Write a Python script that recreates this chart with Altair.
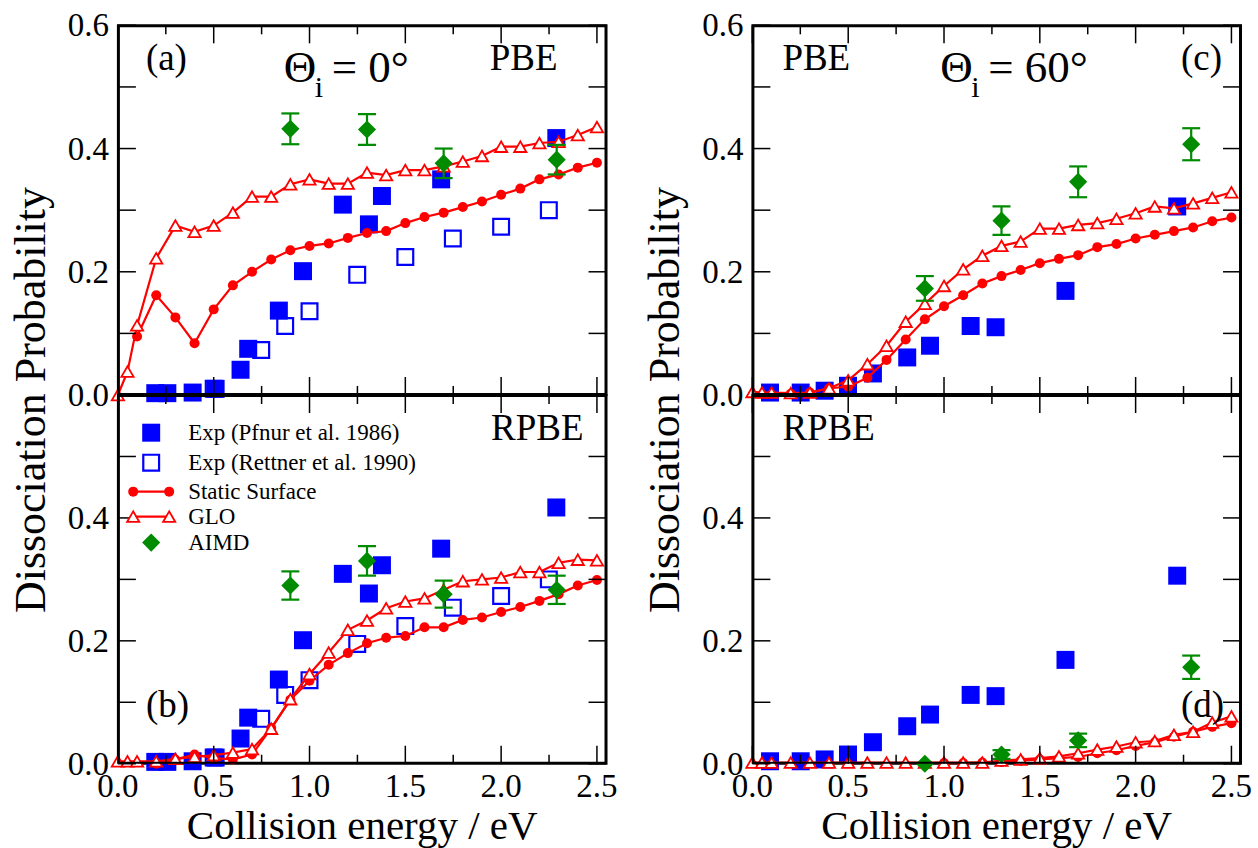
import altair as alt
import pandas as pd

FONT = "Liberation Serif"
BLUE, RED, GREEN, BLACK = "#0000ff", "#ff0000", "#008b00", "#000000"

# ---------------- data : Theta_i = 0 deg ----------------
pf0_x = [0.195, 0.258, 0.39, 0.51, 0.64, 0.68, 0.84, 0.966, 1.174, 1.31, 1.378, 1.687, 2.288]
pf0_y = [0.003, 0.003, 0.004, 0.010, 0.041, 0.075, 0.137, 0.201, 0.309, 0.277, 0.323, 0.350, 0.417]
re0_x = [0.50, 0.748, 0.873, 1.0, 1.249, 1.5, 1.748, 2.0, 2.249]
re0_y = [0.010, 0.073, 0.112, 0.136, 0.195, 0.224, 0.254, 0.273, 0.300]

glo_grid = [0.0, 0.05, 0.1, 0.2, 0.3, 0.4, 0.5, 0.6, 0.7, 0.8, 0.9, 1.0, 1.1, 1.2,
            1.3, 1.4, 1.5, 1.6, 1.7, 1.8, 1.9, 2.0, 2.1, 2.2, 2.3, 2.4, 2.5]
glo_a_y = [0.0, 0.038, 0.113, 0.222, 0.275, 0.265, 0.275, 0.296, 0.322, 0.322, 0.342, 0.350,
           0.343, 0.343, 0.361, 0.357, 0.365, 0.365, 0.371, 0.379, 0.388, 0.403, 0.403, 0.409,
           0.411, 0.422, 0.435]
glo_b_y = [0.004, 0.004, 0.004, 0.004, 0.008, 0.011, 0.014, 0.018, 0.024, 0.057, 0.105, 0.146,
           0.181, 0.218, 0.233, 0.253, 0.264, 0.269, 0.283, 0.297, 0.300, 0.303, 0.312, 0.312,
           0.327, 0.332, 0.331]

ss_a_x = [0.1, 0.2, 0.3, 0.4, 0.5, 0.6, 0.7, 0.8, 0.9, 1.0, 1.1, 1.2, 1.3, 1.4, 1.5, 1.6,
          1.7, 1.8, 1.9, 2.0, 2.1, 2.2, 2.3, 2.4, 2.5]
ss_a_y = [0.095, 0.162, 0.126, 0.084, 0.139, 0.178, 0.200, 0.220, 0.235, 0.242, 0.246, 0.255,
          0.263, 0.266, 0.279, 0.289, 0.296, 0.305, 0.314, 0.325, 0.335, 0.350, 0.358, 0.369, 0.377]
ss_b_x = [0.2, 0.3, 0.4, 0.5, 0.6, 0.7, 0.8, 0.9, 1.0, 1.1, 1.2, 1.3, 1.4, 1.5, 1.6,
          1.7, 1.8, 1.9, 2.0, 2.1, 2.2, 2.3, 2.4, 2.5]
ss_b_y = [0.0, 0.007, 0.015, 0.009, 0.007, 0.015, 0.058, 0.104, 0.135, 0.161, 0.180, 0.196,
          0.205, 0.208, 0.222, 0.222, 0.234, 0.238, 0.247, 0.255, 0.265, 0.276, 0.290, 0.299]

aimd_x = [0.9, 1.3, 1.7, 2.29]
aimd_a_y = [0.432, 0.431, 0.376, 0.382]
aimd_a_e = [0.025, 0.025, 0.024, 0.024]
aimd_b_y = [0.290, 0.330, 0.276, 0.283]
aimd_b_e = [0.023, 0.024, 0.022, 0.023]

# ---------------- data : Theta_i = 60 deg ----------------
pf60_x = [0.092, 0.252, 0.377, 0.499, 0.629, 0.808, 0.927, 1.139, 1.269, 1.634, 2.217]
pf60_y = [0.004, 0.004, 0.007, 0.015, 0.035, 0.061, 0.080, 0.112, 0.110, 0.169, 0.306]

glo_c_y = [0.005, 0.004, 0.004, 0.003, 0.004, 0.011, 0.024, 0.050, 0.080, 0.119, 0.148, 0.177,
           0.204, 0.226, 0.242, 0.249, 0.270, 0.270, 0.276, 0.279, 0.286, 0.295, 0.306, 0.303,
           0.311, 0.320, 0.329]
glo_d_y = [0.002, 0.002, 0.002, 0.002, 0.002, 0.002, 0.002, 0.002, 0.002, 0.002, 0.002, 0.002,
           0.002, 0.002, 0.005, 0.007, 0.009, 0.012, 0.017, 0.023, 0.028, 0.035, 0.037, 0.047,
           0.052, 0.067, 0.077]
ss_c_x = ss_b_x
ss_c_y = [0.002, 0.004, 0.011, 0.0135, 0.028, 0.057, 0.090, 0.123, 0.144, 0.162, 0.181, 0.193,
          0.203, 0.214, 0.221, 0.227, 0.240, 0.245, 0.254, 0.260, 0.266, 0.272, 0.282, 0.288]
ss_d_x = [1.0, 1.1, 1.2, 1.3, 1.4, 1.5, 1.6, 1.7, 1.8, 1.9, 2.0, 2.1, 2.2, 2.3, 2.4, 2.5]
ss_d_y = [0.001, 0.001, 0.002, 0.003, 0.005, 0.007, 0.009, 0.011, 0.017, 0.022, 0.029, 0.035,
          0.044, 0.052, 0.060, 0.066]
aimd_c_y = [0.173, 0.283, 0.346, 0.407]
aimd_c_e = [0.020, 0.023, 0.025, 0.026]
aimd_d_y = [0.0, 0.015, 0.038, 0.157]
aimd_d_e = [0.0, 0.007, 0.011, 0.019]

# ticks / labels
x_major = [0.0, 0.5, 1.0, 1.5, 2.0, 2.5]
x_minor = [0.25, 0.75, 1.25, 1.75, 2.25]
y_ticks = [0.0, 0.1, 0.2, 0.3, 0.4, 0.5, 0.6]
y_labels_top = [0.0, 0.2, 0.4, 0.6]
y_labels_bot = [0.0, 0.2, 0.4]
legend_labels = ["Exp (Pfnur et al. 1986)", "Exp (Rettner et al. 1990)", "Static Surface", "GLO", "AIMD"]
x_title = "Collision energy / eV"
y_title = "Dissociation Probability"

XDOM = [0, 2.55]
YDOM = [0, 0.6]
W = 489
H_TOP = 370
H_BOT = 369


def X(field):
    return alt.X(field, type="quantitative", scale=alt.Scale(domain=XDOM, nice=False, zero=False), axis=None)


def Y(field):
    return alt.Y(field, type="quantitative", scale=alt.Scale(domain=YDOM, nice=False, zero=False), axis=None)


def text_layer(label, x, y, size, align="left", baseline="alphabetic", angle=0):
    return alt.Chart(pd.DataFrame({"t": [label]})).mark_text(
        font=FONT, fontSize=size, align=align, baseline=baseline, color=BLACK, angle=angle
    ).encode(x=alt.value(x), y=alt.value(y), text="t:N")


def frame_and_ticks(H):
    """Box (filled thin bands just inside the plot edge) and inward ticks, via the x / y scales."""
    x0, x1 = XDOM
    y0, y1 = YDOM
    px_x = (x1 - x0) / W
    px_y = (y1 - y0) / H
    bw = 2.0
    band = pd.DataFrame({
        "xa": [x0, x1 - bw * px_x, x0, x0],
        "xb": [x0 + bw * px_x, x1, x1, x1],
        "ya": [y0, y0, y0, y1 - bw * px_y],
        "yb": [y1, y1, y0 + bw * px_y, y1],
    })
    rows = []
    for v in x_major:
        rows += [(v, v, y0, y0 + 18 * px_y), (v, v, y1, y1 - 18 * px_y)]
    for v in x_minor:
        rows += [(v, v, y0, y0 + 9 * px_y), (v, v, y1, y1 - 9 * px_y)]
    for v in y_ticks:
        rows += [(x0, x0 + 18 * px_x, v, v), (x1, x1 - 18 * px_x, v, v)]
    ticks = pd.DataFrame(rows, columns=["xa", "xb", "ya", "yb"])
    return [
        alt.Chart(band).mark_rect(color=BLACK, opacity=1).encode(
            x=X("xa:Q"), x2="xb:Q", y=Y("ya:Q"), y2="yb:Q"),
        alt.Chart(ticks).mark_rule(color=BLACK, strokeWidth=1.5, opacity=1).encode(
            x=X("xa:Q"), x2="xb:Q", y=Y("ya:Q"), y2="yb:Q"),
    ]


def y_label_layer(values):
    return alt.Chart(pd.DataFrame({"v": values})).mark_text(
        font=FONT, fontSize=33, align="right", baseline="alphabetic", dy=11, color=BLACK
    ).encode(y=Y("v:Q"), x=alt.value(-9), text=alt.Text("v:Q", format=".1f"))


def x_label_layer(H):
    return alt.Chart(pd.DataFrame({"v": x_major})).mark_text(
        font=FONT, fontSize=33, align="center", baseline="alphabetic", color=BLACK
    ).encode(x=X("v:Q"), y=alt.value(H + 33), text=alt.Text("v:Q", format=".1f"))


def pts(xv, yv):
    return pd.DataFrame({"x": xv, "y": yv})


def filled_sq(xv, yv):
    return alt.Chart(pts(xv, yv)).mark_point(shape="square", filled=True, size=324, color=BLUE, opacity=1).encode(
        x=X("x:Q"), y=Y("y:Q"))


def open_sq(xv, yv):
    return alt.Chart(pts(xv, yv)).mark_point(shape="square", filled=False, size=250, color=BLUE,
                                             strokeWidth=2.2, opacity=1).encode(x=X("x:Q"), y=Y("y:Q"))


def static_layers(xv, yv):
    base = alt.Chart(pts(xv, yv)).encode(x=X("x:Q"), y=Y("y:Q"))
    return [base.mark_line(color=RED, strokeWidth=2.2),
            base.mark_point(shape="circle", filled=True, size=100, color=RED, opacity=1)]


def glo_layers(xv, yv):
    base = alt.Chart(pts(xv, yv)).encode(x=X("x:Q"), y=Y("y:Q"))
    return [base.mark_line(color=RED, strokeWidth=2.2),
            base.mark_point(shape="triangle-up", filled=True, fill="white", stroke=RED, strokeWidth=1.8,
                            size=150, opacity=1)]


def aimd_layers(xv, yv, ev):
    df = pd.DataFrame({"x": xv, "y": yv, "e": ev})
    df["lo"] = df["y"] - df["e"]
    df["hi"] = df["y"] + df["e"]
    eb = df[df["e"] > 0]
    return [
        alt.Chart(eb).mark_rule(color=GREEN, strokeWidth=2.2).encode(x=X("x:Q"), y=Y("lo:Q"), y2="hi:Q"),
        alt.Chart(eb).mark_tick(color=GREEN, orient="horizontal", size=18, thickness=2.2, opacity=1).encode(
            x=X("x:Q"), y=Y("lo:Q")),
        alt.Chart(eb).mark_tick(color=GREEN, orient="horizontal", size=18, thickness=2.2, opacity=1).encode(
            x=X("x:Q"), y=Y("hi:Q")),
        alt.Chart(df).mark_point(shape="diamond", filled=True, size=330, color=GREEN, opacity=1).encode(
            x=X("x:Q"), y=Y("y:Q")),
    ]


def theta_label(x, angle_text):
    return [
        text_layer("Θ", x, 57, 45),
        text_layer("i", x + 31, 72, 30),
        text_layer(angle_text, x + 48, 57, 45),
    ]


def legend_layers():
    rows = [37.7, 67.7, 96.7, 121.7, 147.7]
    one = pd.DataFrame({"t": [""]})
    layers = []
    layers.append(alt.Chart(one).mark_point(shape="square", filled=True, size=324, color=BLUE, opacity=1)
                  .encode(x=alt.value(33.3), y=alt.value(rows[0])))
    layers.append(alt.Chart(one).mark_point(shape="square", filled=False, size=250, color=BLUE, strokeWidth=2.2,
                                            opacity=1).encode(x=alt.value(33.3), y=alt.value(rows[1])))
    layers.append(alt.Chart(one).mark_rule(color=RED, strokeWidth=2.2)
                  .encode(x=alt.value(15.3), x2=alt.value(51.3), y=alt.value(rows[2])))
    for xx in (15.3, 51.3):
        layers.append(alt.Chart(one).mark_point(shape="circle", filled=True, size=100, color=RED, opacity=1)
                      .encode(x=alt.value(xx), y=alt.value(rows[2])))
    layers.append(alt.Chart(one).mark_rule(color=RED, strokeWidth=2.2)
                  .encode(x=alt.value(15.3), x2=alt.value(51.3), y=alt.value(rows[3])))
    for xx in (15.3, 51.3):
        layers.append(alt.Chart(one).mark_point(shape="triangle-up", filled=True, fill="white", stroke=RED,
                                                strokeWidth=1.8, size=150, opacity=1)
                      .encode(x=alt.value(xx), y=alt.value(rows[3])))
    layers.append(alt.Chart(one).mark_point(shape="diamond", filled=True, size=330, color=GREEN, opacity=1)
                  .encode(x=alt.value(33.3), y=alt.value(rows[4])))
    for lab, yy in zip(legend_labels, rows):
        layers.append(text_layer(lab, 70.3, yy, 23, baseline="middle"))
    return layers


def y_title_layer():
    return text_layer(y_title, -86, 375, 44, align="center", baseline="middle", angle=270)


def x_title_layer(H):
    return text_layer(x_title, W / 2, H + 75, 41, align="center")


# ---------------- panels ----------------
panel_a = alt.layer(
    filled_sq(pf0_x, pf0_y), open_sq(re0_x, re0_y),
    *static_layers(ss_a_x, ss_a_y), *glo_layers(glo_grid, glo_a_y),
    *aimd_layers(aimd_x, aimd_a_y, aimd_a_e),
    *frame_and_ticks(H_TOP), y_label_layer(y_labels_top), y_title_layer(),
    text_layer("(a)", 28, 45, 37), text_layer("PBE", 440, 45, 37, align="right"),
    *theta_label(166, "= 0°"),
).properties(width=W, height=H_TOP)

panel_b = alt.layer(
    filled_sq(pf0_x, pf0_y), open_sq(re0_x, re0_y),
    *static_layers(ss_b_x, ss_b_y), *glo_layers(glo_grid, glo_b_y),
    *aimd_layers(aimd_x, aimd_b_y, aimd_b_e),
    *frame_and_ticks(H_BOT), y_label_layer(y_labels_bot), x_label_layer(H_BOT), x_title_layer(H_BOT),
    *legend_layers(),
    text_layer("(b)", 28, 322, 37), text_layer("RPBE", 466, 45.5, 37, align="right"),
).properties(width=W, height=H_BOT)

panel_c = alt.layer(
    filled_sq(pf60_x, pf60_y),
    *static_layers(ss_c_x, ss_c_y), *glo_layers(glo_grid, glo_c_y),
    *aimd_layers(aimd_x, aimd_c_y, aimd_c_e),
    *frame_and_ticks(H_TOP), y_label_layer(y_labels_top), y_title_layer(),
    text_layer("PBE", 30, 45, 37), text_layer("(c)", 470, 45, 37, align="right"),
    *theta_label(188, "= 60°"),
).properties(width=W, height=H_TOP)

panel_d = alt.layer(
    filled_sq(pf60_x, pf60_y),
    *static_layers(ss_d_x, ss_d_y), *glo_layers(glo_grid, glo_d_y),
    *aimd_layers(aimd_x, aimd_d_y, aimd_d_e),
    *frame_and_ticks(H_BOT), y_label_layer(y_labels_bot), x_label_layer(H_BOT), x_title_layer(H_BOT),
    text_layer("RPBE", 30, 45.5, 37), text_layer("(d)", 472, 322, 37, align="right"),
).properties(width=W, height=H_BOT)

chart = alt.concat(
    panel_a, panel_c, panel_b, panel_d,
    columns=2, spacing={"row": 0, "column": 146}, bounds="flush",
).configure_view(
    stroke="black", strokeWidth=2
).properties(
    background="white",
    padding={"left": 9, "top": 9, "right": 4, "bottom": 1},
)

chart.save("out.html", embed_options={"renderer": "svg", "actions": False})
